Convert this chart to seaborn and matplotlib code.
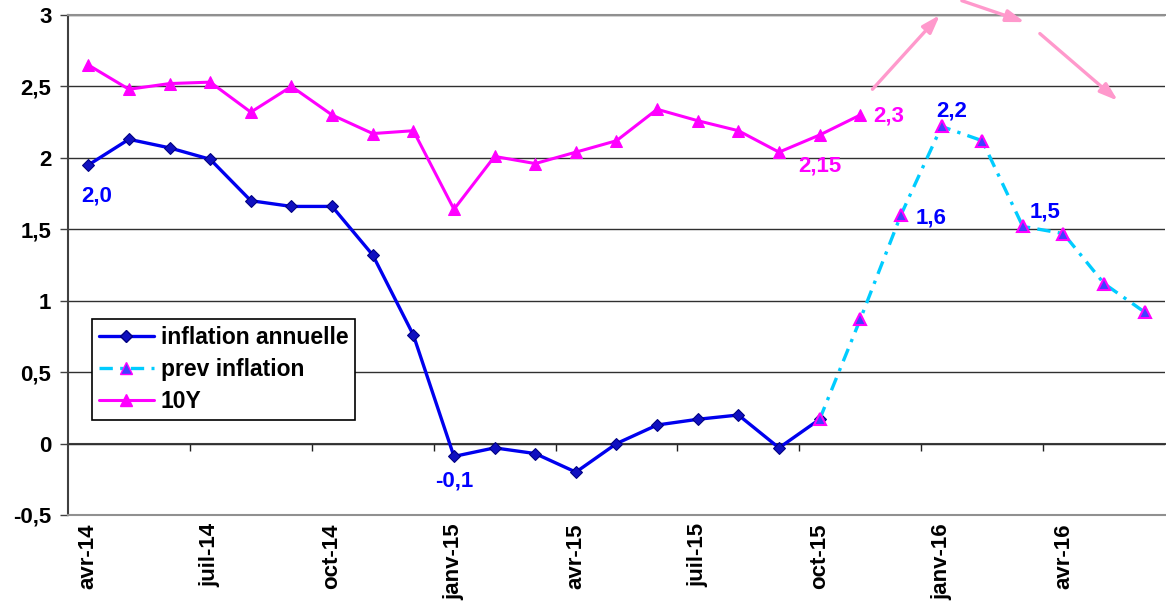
import matplotlib
matplotlib.use("Agg")
import matplotlib.pyplot as plt
from matplotlib.lines import Line2D
import seaborn as sns
import pandas as pd
import numpy as np

# ---- data ----
months = ["avr-14", "mai-14", "juin-14", "juil-14", "août-14", "sept-14", "oct-14",
          "nov-14", "déc-14", "janv-15", "févr-15", "mars-15", "avr-15", "mai-15",
          "juin-15", "juil-15", "août-15", "sept-15", "oct-15", "nov-15", "déc-15",
          "janv-16", "févr-16", "mars-16", "avr-16", "mai-16", "juin-16"]
inflation = [1.95, 2.13, 2.07, 1.99, 1.70, 1.66, 1.66, 1.32, 0.76, -0.09, -0.03,
             -0.07, -0.20, 0.00, 0.13, 0.17, 0.20, -0.03, 0.17]
prev_start = "oct-15"
prev_inflation = [0.17, 0.87, 1.60, 2.22, 2.12, 1.52, 1.47, 1.12, 0.92]
ten_y = [2.65, 2.48, 2.52, 2.53, 2.32, 2.50, 2.30, 2.17, 2.19, 1.64, 2.01, 1.96,
         2.04, 2.12, 2.34, 2.26, 2.19, 2.04, 2.16, 2.30]
tick_months = ["avr-14", "juil-14", "oct-14", "janv-15", "avr-15", "juil-15",
               "oct-15", "janv-16", "avr-16"]
y_ticks = [-0.5, 0, 0.5, 1, 1.5, 2, 2.5, 3]
# (text, month, x offset, value, colour)
annotations = [("2,0", "avr-14", 0.2, 1.73, "#0000FF"),
               ("-0,1", "janv-15", 0.0, -0.26, "#0000FF"),
               ("2,15", "oct-15", 0.0, 1.94, "#FF00FF"),
               ("2,3", "nov-15", 0.7, 2.29, "#FF00FF"),
               ("2,2", "janv-16", 0.25, 2.33, "#0000FF"),
               ("1,6", "déc-15", 0.75, 1.58, "#0000FF"),
               ("1,5", "mars-16", 0.55, 1.62, "#0000FF")]
# decorative arrows (start x, start y, end x, end y) in month index / value
arrows = [(19.3, 2.48, 20.96, 3.0),
          (21.5, 3.10, 23.05, 2.95),
          (23.42, 2.87, 25.34, 2.40)]

idx = {m: i for i, m in enumerate(months)}
df_inf = pd.DataFrame({"x": np.arange(len(inflation)), "y": inflation})
p0 = idx[prev_start]
df_prev = pd.DataFrame({"x": np.arange(p0, p0 + len(prev_inflation)), "y": prev_inflation})
df_10y = pd.DataFrame({"x": np.arange(len(ten_y)), "y": ten_y})

sns.set_theme(style="white")
plt.rcParams["font.family"] = ["Liberation Sans", "DejaVu Sans"]
plt.rcParams["font.weight"] = "bold"
plt.rcParams["text.color"] = "black"
plt.rcParams["xtick.labelcolor"] = "black"
plt.rcParams["ytick.labelcolor"] = "black"

fig = plt.figure(figsize=(11.66, 6.15), dpi=100)
ax = fig.add_axes([68 / 1166, 1 - 515 / 615, (1165 - 68) / 1166, 500 / 615])

blue = "#0000EE"
cyan = "#00CCFF"
mag = "#FF00FF"
dash = (0, (4, 2.2, 1, 2.2))

sns.lineplot(data=df_10y, x="x", y="y", ax=ax, color=mag, lw=2.2,
             marker="^", markersize=9, markerfacecolor=mag, markeredgecolor=mag, zorder=3)
sns.lineplot(data=df_inf, x="x", y="y", ax=ax, color=blue, lw=2.4,
             marker="D", markersize=6.5, markerfacecolor="#1010C0",
             markeredgecolor="#000080", zorder=4)
sns.lineplot(data=df_prev, x="x", y="y", ax=ax, color=cyan, lw=2.4,
             linestyle=dash, marker="^", markersize=9,
             markerfacecolor="#4040FF", markeredgecolor=mag, markeredgewidth=1.5, zorder=5)

ax.set_xlim(-0.5, len(months) - 0.5)
ax.set_ylim(-0.5, 3)
ax.set_xlabel("")
ax.set_ylabel("")

# y axis
ax.set_yticks(y_ticks)
ax.set_yticklabels([("%g" % v).replace(".", ",") for v in y_ticks],
                   fontsize=16, fontweight="bold", color="black")
ax.tick_params(axis="y", length=6, width=1, color="#404040", pad=6, direction="out", left=True)
ax.grid(axis="y", color="#303030", lw=1)
ax.grid(axis="x", visible=False)

# x labels
ax.set_xticks([idx[m] for m in tick_months])
ax.set_xticklabels(tick_months, rotation=90, fontsize=16, fontweight="bold", va="top",
                   color="black")
ax.tick_params(axis="x", length=0, pad=6)

for s in ["top", "bottom"]:
    ax.spines[s].set_color("#909090")
    ax.spines[s].set_linewidth(1.5)
ax.spines["right"].set_visible(False)
ax.spines["left"].set_color("#404040")
ax.spines["left"].set_linewidth(1.5)

# zero axis with boundary ticks
sec = ax.secondary_xaxis(0.5 / 3.5)
sec.set_xticks(np.arange(2.5, len(months) - 1, 3))
sec.set_xticklabels([])
sec.tick_params(axis="x", length=5, width=1, color="#202020", direction="out")
sec.spines["bottom"].set_color("#404040")
sec.spines["bottom"].set_linewidth(1.5)

for txt, m, dx, v, c in annotations:
    ax.text(idx[m] + dx, v, txt, color=c, fontsize=16, fontweight="bold",
            ha="center", va="center")

for x0, y0, x1, y1 in arrows:
    ax.annotate("", xy=(x1, y1), xytext=(x0, y0), annotation_clip=False,
                arrowprops=dict(arrowstyle="-|>,head_length=0.9,head_width=0.3",
                                color="#FF99CC", lw=2.4, shrinkA=0, shrinkB=0))

handles = [Line2D([], [], color=blue, lw=2.4, marker="D", markersize=6.5,
                  markerfacecolor="#1010C0", markeredgecolor="#000080"),
           Line2D([], [], color=cyan, lw=2.4, linestyle=dash, marker="^",
                  markersize=9, markerfacecolor="#4040FF", markeredgecolor=mag),
           Line2D([], [], color=mag, lw=2.2, marker="^", markersize=9,
                  markerfacecolor=mag, markeredgecolor=mag)]
leg = ax.legend(handles, ["inflation annuelle", "prev inflation", "10Y"],
                loc="upper left", bbox_to_anchor=((92 - 68) / 1097, 1 - (319 - 15) / 500),
                fontsize=16.5, frameon=True, fancybox=False, edgecolor="black",
                framealpha=1, handlelength=2.4, borderpad=0.3, labelspacing=0.4,
                handletextpad=0.3, borderaxespad=0)
leg.get_frame().set_linewidth(1.2)
for t in leg.get_texts():
    t.set_fontweight("bold")
    t.set_color("black")

fig.savefig("out.png", dpi=100)
